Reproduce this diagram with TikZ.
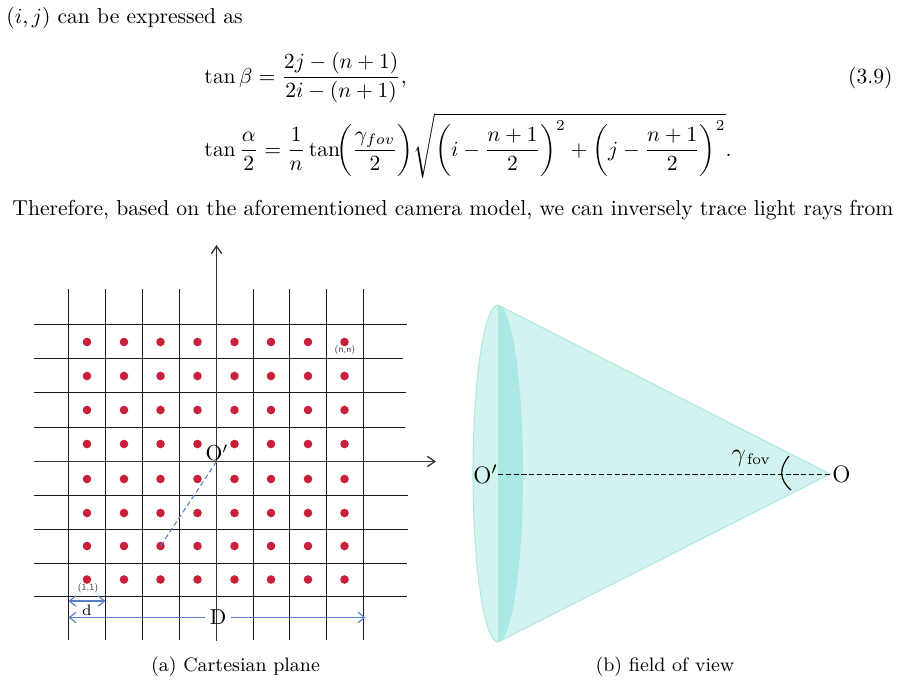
\documentclass[tikz,border=0pt]{standalone}
\usepackage{amsmath}
\usetikzlibrary{arrows.meta}

\definecolor{dotred}{HTML}{C8203A}
\definecolor{dimblue}{HTML}{5B7FC7}
\definecolor{conelight}{HTML}{D2F3F0}
\definecolor{conedark}{HTML}{A9E8E3}
\definecolor{coneedge}{HTML}{B2E9E4}

\tikzset{
  textline/.style={anchor=base west,inner sep=0pt},
  gridline/.style={black!90,line width=0.6pt},
  axisline/.style={black!80,line width=0.6pt,-{Straight Barb[length=3.5pt,width=4.8pt]}},
  dimline/.style={dimblue,line width=0.55pt,-{Straight Barb[length=3pt,width=4.8pt]}},
  tinylabel/.style={inner sep=0pt,black!75,font=\fontsize{4.3}{5}\selectfont\sffamily},
  biglabel/.style={inner sep=0pt,font=\normalsize},
  conelabel/.style={inner sep=0pt,font=\fontsize{11}{13}\selectfont},
}

\begin{document}
\begin{tikzpicture}[x=0.463pt,y=-0.463pt]
  \useasboundingbox (0,0) rectangle (900,683);

  % text above the figures
  \node[textline] (intro) at (6,23) {$(i,j)$ can be expressed as};
  \node[textline] (eqbeta) at (204,83) {$\displaystyle \tan\beta=\frac{2j-(n+1)}{2i-(n+1)},$};
  \node[anchor=base east,inner sep=0pt] (eqnum) at (893,83) {(3.9)};
  \node[textline] (eqalpha) at (204,156) {$\displaystyle \tan\frac{\alpha}{2}=\frac{1}{n}\tan\!\biggl(\frac{\gamma_{fov}}{2}\biggr)\sqrt{\biggl(i-\frac{n+1}{2}\biggr)^{2}+\biggl(j-\frac{n+1}{2}\biggr)^{2}}.$};
  \node[textline] (after) at (12,215) {Therefore, based on the aforementioned camera model, we can inversely trace light rays from};

  % grid of the plane
  \foreach \x in {68.5,105.5,142.5,179.5,253.5,289.5,326.5,363.5}
    \draw[gridline] (\x,289) -- (\x,640);
  \foreach \y/\xend in {324.5/407,358.5/403,392.5/406,427.5/405,495.5/408,529.5/408,563.5/407,596.5/407}
    \draw[gridline] (34,\y) -- (\xend,\y);

  % axes
  \coordinate (ybottom) at (216.5,641);
  \coordinate (ytop) at (216.5,245);
  \coordinate (xleft) at (34,461.5);
  \coordinate (xright) at (436,461.5);
  \draw[axisline] (ybottom) -- (ytop);
  \draw[axisline] (xleft) -- (xright);

  % pixel centres
  \foreach \x in {87,124,160.5,197.5,234.5,271,308,344.5}
    \foreach \y in {342,376,410,444,479,513,546,579.5}
      \fill[dotred] (\x,\y) circle (4.3);

  % labels of the plane
  \coordinate (centre) at (216.5,461.5);
  \coordinate (pixel) at (160.5,546);
  \draw[dimblue,line width=0.5pt,dash pattern=on 2.3pt off 1.4pt] (centre) -- (pixel);
  \node[biglabel] (oplane) at (217,453) {O$'$};
  \node[tinylabel] (nn) at (345,350) {(n,n)};
  \node[tinylabel] (first) at (88,588.5) {(1,1)};

  % dimensions
  \coordinate (dleft) at (68.5,601);
  \coordinate (dright) at (105.5,601);
  \coordinate (bigleft) at (68.5,617.5);
  \coordinate (bigright) at (365.5,617.5);
  \draw[dimline,{Straight Barb[length=3pt,width=4.8pt]}-{Straight Barb[length=3pt,width=4.8pt]}] (dleft) -- (dright);
  \node[inner sep=0pt,font=\scriptsize] (dlabel) at (87,610) {d};
  \node[biglabel,inner sep=2pt] (bigd) at (218,617.5) {D};
  \draw[dimline] (bigd) -- (bigleft);
  \draw[dimline] (bigd) -- (bigright);

  % cone
  \coordinate (rimtop) at (498,305);
  \coordinate (rimbottom) at (498,642);
  \coordinate (apex) at (830,474);
  \draw[coneedge,fill=conelight,line width=0.5pt] (rimtop) -- (apex) -- (rimbottom)
    arc[start angle=90,end angle=270,x radius=25,y radius=168.5] -- cycle;
  \fill[conedark] (rimtop) arc[start angle=270,end angle=450,x radius=25,y radius=168.5] -- cycle;

  % labels of the cone
  \node[conelabel,anchor=east] (oprime) at (498,474.5) {O$'$};
  \node[conelabel,anchor=west] (o) at (832,474.5) {O};
  \draw[line width=0.5pt,dash pattern=on 2.4pt off 1.2pt] (oprime.east) -- (o.west);
  \draw[line width=0.55pt] (789,456) .. controls (779,468) and (779,480) .. (791,490);
  \node[inner sep=0pt,anchor=base west] (gammafov) at (731,461)
    {{\large$\gamma$}\hspace{0.5pt}{\scriptsize\raisebox{-1.5pt}{fov}}};

  % captions
  \node[inner sep=0pt,anchor=base,font=\small] (capa) at (235.5,671.5) {(a) Cartesian plane};
  \node[inner sep=0pt,anchor=base,font=\small] (capb) at (665,671.5) {(b) field of view};
\end{tikzpicture}
\end{document}
